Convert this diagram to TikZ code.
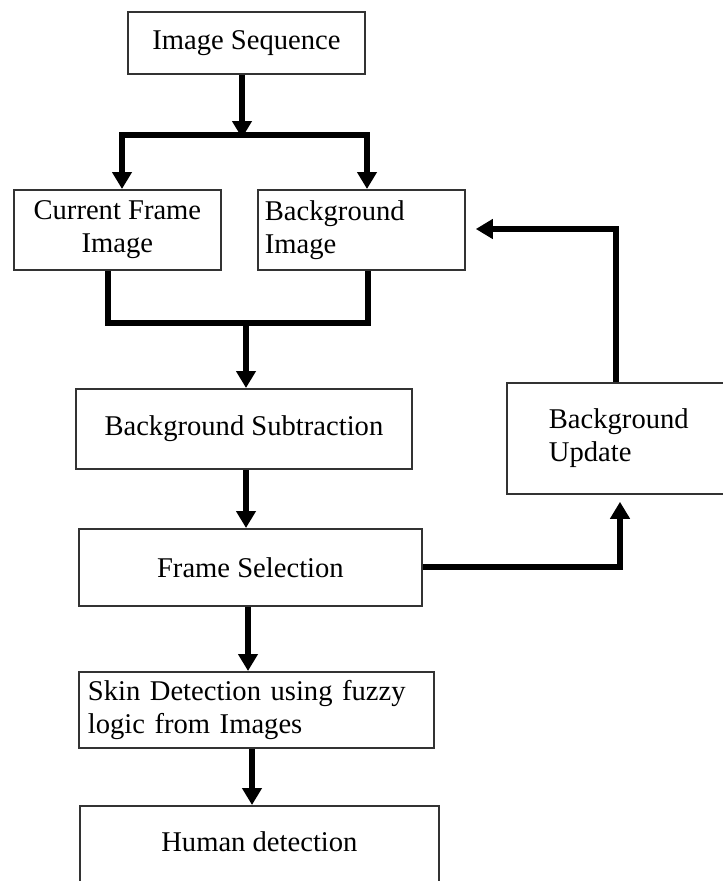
\documentclass[tikz,border=0pt]{standalone}
\usepackage{fontspec}
\setmainfont{Liberation Serif}
\usetikzlibrary{arrows.meta}
\newcommand\boxfont{\fontsize{28.6}{33}\selectfont}
\begin{document}
\begin{tikzpicture}[x=1pt,y=-1pt,
  blk/.style={draw=black!80, line width=1.8pt, rectangle, inner xsep=0pt, inner ysep=0pt, font=\boxfont, anchor=north west},
  conn/.style={line width=5.5pt, line join=miter, draw=black},
  arr/.style={-{Triangle[width=19pt,length=17pt]}},
  arrboth/.style={{Triangle[width=19pt,length=17pt]}-{Triangle[width=19pt,length=17pt]}},
]
\useasboundingbox (0,0) rectangle (723,881);
\clip (0,0) rectangle (723,881);
\fill[white] (0,0) rectangle (723,881);

% boxes
\node[blk, minimum width=237pt, minimum height=62pt] (seq) at (127,11) {Image Sequence};
\node[blk, minimum width=207pt, minimum height=80pt, text width=195pt, align=flush center] (cf) at (13,189) {Current Frame\hspace*{15pt}\\Image\hspace*{12pt}};
\node[blk, minimum height=80pt, inner xsep=7pt, text width=193pt, align=left] (bg) at (257,189) {Background\\Image};
\node[blk, minimum width=336pt, minimum height=80pt] (bs) at (75,388) {Background Subtraction};
\node[blk, minimum height=111pt, inner xsep=42pt, text width=160pt, align=left] (bu) at (506,382) {Background\\Update};
\node[blk, minimum width=343pt, minimum height=77pt] (fs) at (78,528) {Frame Selection};
\node[blk, minimum height=76pt, inner xsep=9pt, text width=337pt, align=left] (sd) at (78,671) {Skin Detection using fuzzy\\logic from Images};
\node[blk, minimum width=359pt, minimum height=98pt, text depth=26pt] (hd) at (79,805) {Human detection};

% junction coordinates
\coordinate (split) at (242,135);
\coordinate (L) at (122,135);
\coordinate (R) at (367,135);
\coordinate (L2) at (108,323);
\coordinate (R2) at (368,323);
\coordinate (M2) at (246,323);
\coordinate (c3) at (246,0);
\coordinate (c4) at (248,0);
\coordinate (c5) at (252,0);
\coordinate (up) at (620,567);
\coordinate (back) at (616,229);

% connectors
\draw[conn, arr] (seq.south -| split) -- ([yshift=-3pt]split);
\draw[conn, arrboth] (L |- cf.north) -- (L) -- (R) -- (R |- bg.north);
\draw[conn] (L2 |- cf.south) -- (L2) -- (R2) -- (R2 |- bg.south);
\draw[conn, arr] (M2) -- (M2 |- bs.north);
\draw[conn, arr] (bs.south -| c3) -- (fs.north -| c3);
\draw[conn, arr] (fs.south -| c4) -- (sd.north -| c4);
\draw[conn, arr] (sd.south -| c5) -- (hd.north -| c5);
\draw[conn, arr, shorten >=7pt] (fs.east |- up) -- (up) -- (up |- bu.south);
\draw[conn, arr, shorten >=10pt] (bu.north -| back) -- (back) -- (back -| bg.east);
\end{tikzpicture}
\end{document}
